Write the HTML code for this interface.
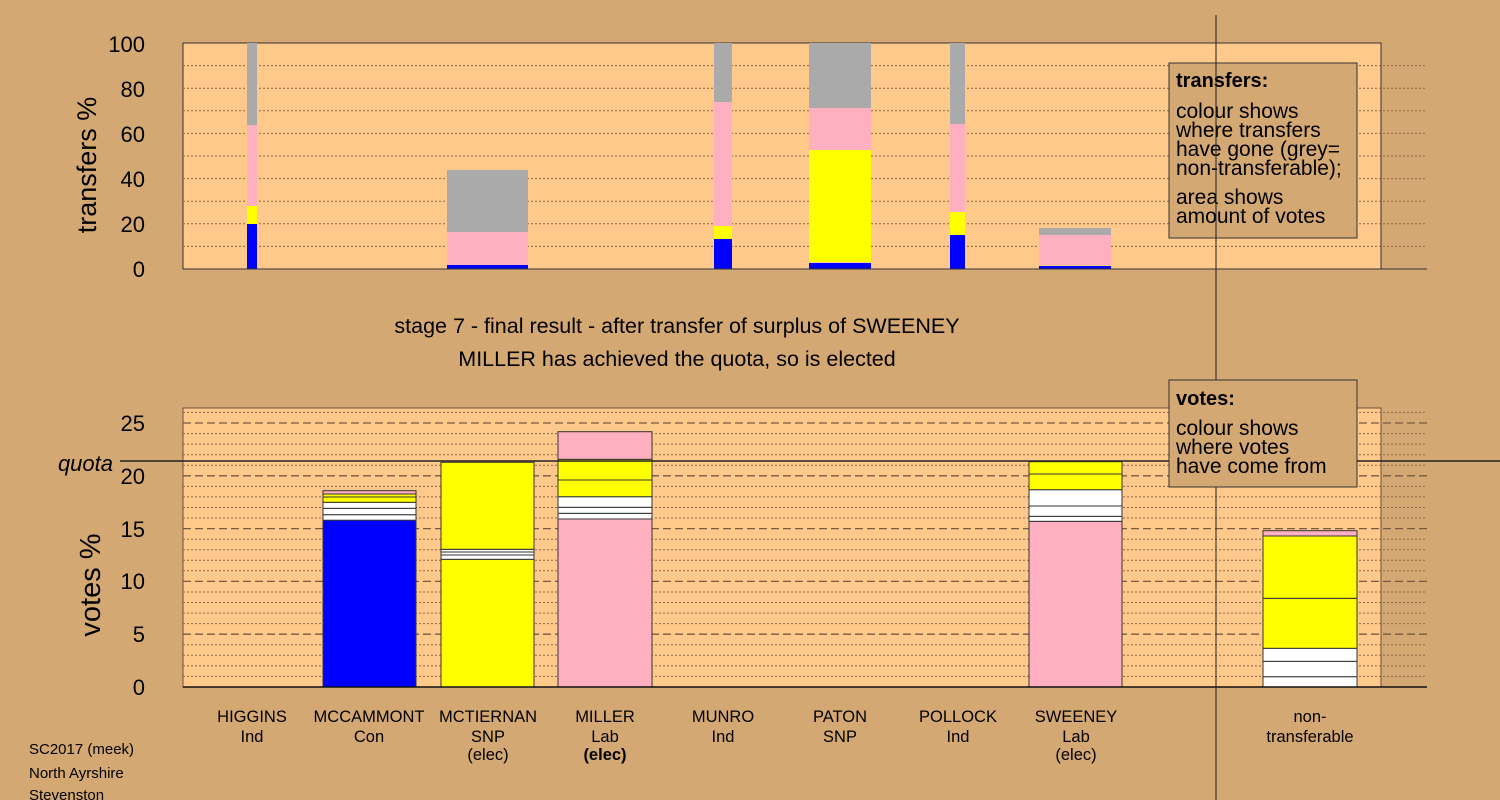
<!DOCTYPE html>
<html><head><meta charset="utf-8"><style>
body{margin:0;background:#d4a873;}
svg{display:block;font-family:"Liberation Sans",sans-serif;}
</style></head><body>
<svg width="1500" height="800" viewBox="0 0 1500 800">
<rect width="1500" height="800" fill="#d4a873"/>
<rect x="183" y="43" width="1198" height="226" fill="#ffc98b" stroke="#333" stroke-width="1"/>
<g stroke="#8a6a48" stroke-width="1" stroke-dasharray="2,2">
<line x1="183" x2="1427" y1="246.4" y2="246.4"/><line x1="183" x2="1427" y1="223.8" y2="223.8"/>
<line x1="183" x2="1427" y1="201.2" y2="201.2"/><line x1="183" x2="1427" y1="178.6" y2="178.6"/>
<line x1="183" x2="1427" y1="156" y2="156"/><line x1="183" x2="1427" y1="133.4" y2="133.4"/>
<line x1="183" x2="1427" y1="110.8" y2="110.8"/><line x1="183" x2="1427" y1="88.2" y2="88.2"/>
<line x1="183" x2="1427" y1="65.6" y2="65.6"/>
</g>
<line x1="183" x2="1381" y1="43" y2="43" stroke="#333"/>
<g font-size="22" text-anchor="end" fill="#000">
<text x="145" y="277">0</text><text x="145" y="232">20</text><text x="145" y="187">40</text>
<text x="145" y="142">60</text><text x="145" y="97">80</text><text x="145" y="52">100</text>
</g>
<text transform="translate(96,165) rotate(-90)" font-size="27" text-anchor="middle">transfers %</text>
<g>
<rect x="247" y="224" width="10" height="45" fill="#0000ff"/><rect x="247" y="206" width="10" height="18" fill="#ffff00"/><rect x="247" y="125" width="10" height="81" fill="#ffb0c0"/><rect x="247" y="43" width="10" height="82" fill="#aaaaaa"/>
<rect x="447" y="265" width="81" height="4" fill="#0000ff"/><rect x="447" y="232" width="81" height="33" fill="#ffb0c0"/><rect x="447" y="170" width="81" height="62" fill="#aaaaaa"/>
<rect x="714" y="239" width="18" height="30" fill="#0000ff"/><rect x="714" y="226" width="18" height="13" fill="#ffff00"/><rect x="714" y="102" width="18" height="124" fill="#ffb0c0"/><rect x="714" y="43" width="18" height="59" fill="#aaaaaa"/>
<rect x="809" y="263" width="62" height="6" fill="#0000ff"/><rect x="809" y="150" width="62" height="112" fill="#ffff00"/><rect x="809" y="108" width="62" height="42" fill="#ffb0c0"/><rect x="809" y="43" width="62" height="65" fill="#aaaaaa"/>
<rect x="950" y="235" width="15" height="34" fill="#0000ff"/><rect x="950" y="212" width="15" height="23" fill="#ffff00"/><rect x="950" y="124" width="15" height="88" fill="#ffb0c0"/><rect x="950" y="43" width="15" height="81" fill="#aaaaaa"/>
<rect x="1039" y="266" width="72" height="3" fill="#0000ff"/><rect x="1039" y="235" width="72" height="30" fill="#ffb0c0"/><rect x="1039" y="228" width="72" height="7" fill="#aaaaaa"/>
</g>
<line x1="183" x2="1427" y1="269" y2="269" stroke="#333"/>
<rect x="1169" y="63" width="188" height="175" fill="#d4a873" stroke="#333"/>
<text x="1176" y="87" font-size="20" font-weight="bold">transfers:</text>
<g font-size="21"><text x="1176" y="118">colour shows</text><text x="1176" y="137">where transfers</text><text x="1176" y="156">have gone (grey=</text><text x="1176" y="175">non-transferable);</text><text x="1176" y="204">area shows</text><text x="1176" y="223">amount of votes</text></g>
<text x="677" y="333" font-size="21.5" text-anchor="middle">stage 7 - final result - after transfer of surplus of SWEENEY</text>
<text x="677" y="366" font-size="21.5" text-anchor="middle">MILLER has achieved the quota, so is elected</text>
<rect x="183" y="408" width="1198" height="279" fill="#ffc98b" stroke="#6a5040" stroke-width="1"/>
<g stroke="#8a6a48" stroke-width="1" stroke-dasharray="2,2">
<line x1="183" x2="1427" y1="676.4" y2="676.4"/><line x1="183" x2="1427" y1="665.9" y2="665.9"/><line x1="183" x2="1427" y1="655.3" y2="655.3"/><line x1="183" x2="1427" y1="644.8" y2="644.8"/>
<line x1="183" x2="1427" y1="623.6" y2="623.6"/><line x1="183" x2="1427" y1="613.1" y2="613.1"/><line x1="183" x2="1427" y1="602.5" y2="602.5"/><line x1="183" x2="1427" y1="592" y2="592"/>
<line x1="183" x2="1427" y1="570.8" y2="570.8"/><line x1="183" x2="1427" y1="560.3" y2="560.3"/><line x1="183" x2="1427" y1="549.7" y2="549.7"/><line x1="183" x2="1427" y1="539.2" y2="539.2"/>
<line x1="183" x2="1427" y1="518" y2="518"/><line x1="183" x2="1427" y1="507.5" y2="507.5"/><line x1="183" x2="1427" y1="496.9" y2="496.9"/><line x1="183" x2="1427" y1="486.4" y2="486.4"/>
<line x1="183" x2="1427" y1="465.2" y2="465.2"/><line x1="183" x2="1427" y1="454.7" y2="454.7"/><line x1="183" x2="1427" y1="444.1" y2="444.1"/><line x1="183" x2="1427" y1="433.6" y2="433.6"/>
<line x1="183" x2="1427" y1="412.4" y2="412.4"/>
</g>
<g stroke="#7a5a40" stroke-width="1.3" stroke-dasharray="8,4">
<line x1="183" x2="1427" y1="634.2" y2="634.2"/><line x1="183" x2="1427" y1="581.4" y2="581.4"/><line x1="183" x2="1427" y1="528.6" y2="528.6"/><line x1="183" x2="1427" y1="475.8" y2="475.8"/><line x1="183" x2="1427" y1="423" y2="423"/>
</g>
<line x1="183" x2="1381" y1="408" y2="408" stroke="#6a5040"/>
<g font-size="22" text-anchor="end"><text x="145" y="695">0</text><text x="145" y="642">5</text><text x="145" y="589">10</text><text x="145" y="537">15</text><text x="145" y="484">20</text><text x="145" y="431">25</text></g>
<text x="113" y="471" font-size="22" font-style="italic" text-anchor="end">quota</text>
<text transform="translate(100,585) rotate(-90)" font-size="29" text-anchor="middle">votes %</text>
<g stroke="#333" stroke-width="1">
<rect x="323" y="520.2" width="93" height="166.8" fill="#0000ff"/>
<rect x="323" y="514.7" width="93" height="5.5" fill="#fff"/><rect x="323" y="508.3" width="93" height="6.4" fill="#fff"/><rect x="323" y="502.3" width="93" height="6" fill="#fff"/>
<rect x="323" y="497" width="93" height="5.3" fill="#ffff00"/><rect x="323" y="494" width="93" height="3" fill="#ffff00"/><rect x="323" y="490.7" width="93" height="3.3" fill="#ffb0c0"/>
<rect x="441" y="559.3" width="93" height="127.7" fill="#ffff00"/>
<rect x="441" y="555" width="93" height="4.3" fill="#fff"/><rect x="441" y="552" width="93" height="3" fill="#fff"/><rect x="441" y="549.3" width="93" height="2.7" fill="#fff"/>
<rect x="441" y="462.3" width="93" height="87" fill="#ffff00"/>
<rect x="558" y="519" width="94" height="168" fill="#ffb0c0"/>
<rect x="558" y="513.3" width="94" height="5.7" fill="#fff"/><rect x="558" y="507.3" width="94" height="6" fill="#fff"/><rect x="558" y="496.7" width="94" height="10.6" fill="#fff"/>
<rect x="558" y="480" width="94" height="16.7" fill="#ffff00"/><rect x="558" y="459.3" width="94" height="20.7" fill="#ffff00"/><rect x="558" y="431.7" width="94" height="27.6" fill="#ffb0c0"/>
<rect x="1029" y="521.3" width="93" height="165.7" fill="#ffb0c0"/>
<rect x="1029" y="516.3" width="93" height="5" fill="#fff"/><rect x="1029" y="506" width="93" height="10.3" fill="#fff"/><rect x="1029" y="489.7" width="93" height="16.3" fill="#fff"/>
<rect x="1029" y="474" width="93" height="15.7" fill="#ffff00"/><rect x="1029" y="461.7" width="93" height="12.3" fill="#ffff00"/>
<rect x="1263" y="676.7" width="94" height="10.3" fill="#fff"/><rect x="1263" y="661.3" width="94" height="15.4" fill="#fff"/><rect x="1263" y="648.3" width="94" height="13" fill="#fff"/>
<rect x="1263" y="598.3" width="94" height="50" fill="#ffff00"/><rect x="1263" y="536" width="94" height="62.3" fill="#ffff00"/><rect x="1263" y="530.7" width="94" height="5.3" fill="#ffb0c0"/>
</g>
<line x1="120" x2="1500" y1="461" y2="461" stroke="#222" stroke-width="1.5"/>
<line x1="183" x2="1427" y1="687" y2="687" stroke="#111" stroke-width="1.5"/>
<line x1="1216" x2="1216" y1="15" y2="800" stroke="#222" stroke-width="1"/>
<rect x="1169" y="380" width="188" height="107" fill="#d4a873" stroke="#333"/>
<text x="1176" y="405" font-size="20" font-weight="bold">votes:</text>
<g font-size="21"><text x="1176" y="435">colour shows</text><text x="1176" y="454">where votes</text><text x="1176" y="473">have come from</text></g>
<g font-size="16.5" text-anchor="middle">
<text x="252" y="722">HIGGINS</text><text x="252" y="742">Ind</text>
<text x="369" y="722">MCCAMMONT</text><text x="369" y="742">Con</text>
<text x="488" y="722">MCTIERNAN</text><text x="488" y="742">SNP</text><text x="488" y="760">(elec)</text>
<text x="605" y="722">MILLER</text><text x="605" y="742">Lab</text><text x="605" y="760" font-weight="bold">(elec)</text>
<text x="723" y="722">MUNRO</text><text x="723" y="742">Ind</text>
<text x="840" y="722">PATON</text><text x="840" y="742">SNP</text>
<text x="958" y="722">POLLOCK</text><text x="958" y="742">Ind</text>
<text x="1076" y="722">SWEENEY</text><text x="1076" y="742">Lab</text><text x="1076" y="760">(elec)</text>
<text x="1310" y="722">non-</text><text x="1310" y="742">transferable</text>
</g>
<g font-size="15"><text x="29" y="754">SC2017 (meek)</text><text x="29" y="778">North Ayrshire</text><text x="29" y="800">Stevenston</text></g>
</svg>
</body></html>
